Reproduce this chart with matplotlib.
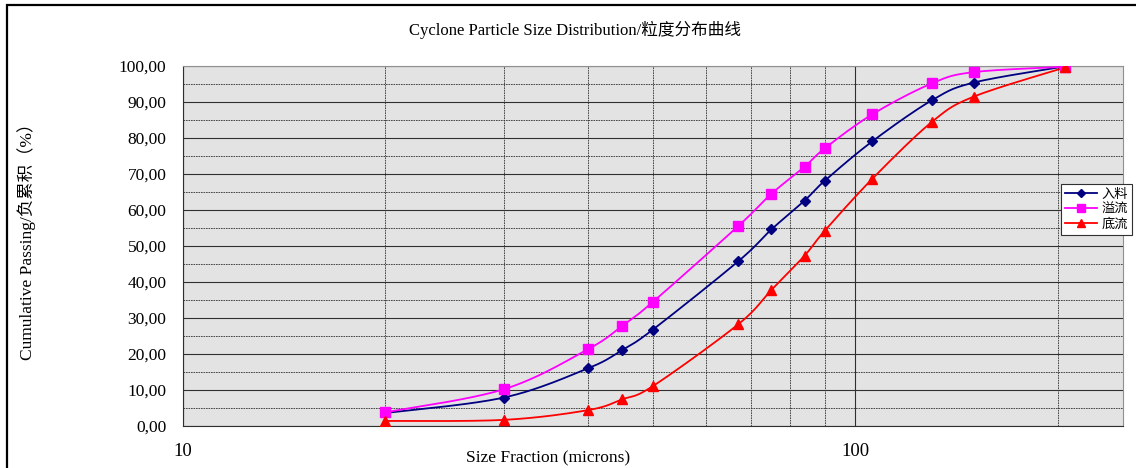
import matplotlib
matplotlib.use("Agg")
import matplotlib.pyplot as plt
import numpy as np
from matplotlib.lines import Line2D
from matplotlib.patches import Rectangle
from matplotlib.ticker import FixedLocator, FixedFormatter, NullFormatter

plt.rcParams["font.family"] = ["Liberation Serif", "Noto Sans CJK SC"]

# sieve sizes (microns) and cumulative passing (%)
sizes = [20, 30, 40, 45, 50, 67, 75, 84, 90, 106, 130, 150, 205]
feed = [3.6, 7.9, 16.0, 21.1, 26.8, 45.8, 54.6, 62.6, 68.1, 79.1, 90.5, 95.4, 99.9]
overflow = [3.8, 10.2, 21.3, 27.8, 34.5, 55.6, 64.5, 72.0, 77.1, 86.6, 95.2, 98.3, 99.8]
underflow = [1.4, 1.7, 4.4, 7.4, 11.1, 28.3, 37.8, 47.3, 54.2, 68.7, 84.5, 91.5, 99.6]
series_names = ["入料", "溢流", "底流"]

y_ticks = list(range(0, 101, 10))
x_labels = ["10", "100"]


def smooth(x, y, n=24):
    # excel-like smoothed line (bezier through points), done in screen-ish space
    u = np.log10(x) * 672.0
    v = np.asarray(y, dtype=float) * 3.6
    pts = np.column_stack([u, v])
    out = [pts[0]]
    t = np.linspace(0, 1, n)[1:, None]
    for i in range(len(pts) - 1):
        p0 = pts[max(i - 1, 0)]
        p1 = pts[i]
        p2 = pts[i + 1]
        p3 = pts[min(i + 2, len(pts) - 1)]
        c1 = p1 + (p2 - p0) / 6
        c2 = p2 - (p3 - p1) / 6
        seg = (1 - t) ** 3 * p1 + 3 * (1 - t) ** 2 * t * c1 + 3 * (1 - t) * t ** 2 * c2 + t ** 3 * p2
        out.extend(seg)
    out = np.array(out)
    return 10 ** (out[:, 0] / 672.0), out[:, 1] / 3.6


W, H = 1136, 468
fig = plt.figure(figsize=(W / 100, H / 100), dpi=100)
ax = fig.add_axes([183 / W, 1 - 426 / H, (1123 - 183) / W, (426 - 66) / H])
ax.set_facecolor("#e3e3e3")

styles = [
    dict(color="#000080", marker="D", ms=5),
    dict(color="#ff00ff", marker="s", ms=7),
    dict(color="#ff0000", marker="^", ms=7),
]
handles = []
for vals, st in zip([feed, overflow, underflow], styles):
    sx, sy = smooth(sizes, vals)
    ax.plot(sx, sy, color=st["color"], lw=1.3, zorder=3)
    ax.plot(sizes, vals, ls="none", marker=st["marker"], ms=st["ms"],
            color=st["color"], zorder=4)
    handles.append(Line2D([], [], color=st["color"], lw=1.3, marker=st["marker"],
                          ms=st["ms"] - 1))

ax.set_xscale("log")
ax.set_xlim(10, 250)
ax.set_ylim(0, 100)
ax.xaxis.set_major_locator(FixedLocator([10, 100]))
ax.xaxis.set_major_formatter(FixedFormatter(x_labels))
ax.xaxis.set_minor_locator(FixedLocator([20, 30, 40, 50, 60, 70, 80, 90, 200]))
ax.xaxis.set_minor_formatter(NullFormatter())
ax.yaxis.set_major_locator(FixedLocator(y_ticks))
ax.yaxis.set_major_formatter(FixedFormatter([f"{v:.2f}".replace(".", ",") for v in y_ticks]))
ax.yaxis.set_minor_locator(FixedLocator([v + 5 for v in y_ticks[:-1]]))

ax.tick_params(which="both", length=0)
ax.tick_params(axis="y", labelsize=12.5, pad=12)
ax.tick_params(axis="x", labelsize=13.5, pad=12)

ax.grid(which="major", color="#303030", lw=0.8, ls="-")
ax.grid(which="minor", color="#303030", lw=0.6, ls=(0, (2, 1)))
ax.set_axisbelow(True)
for s in ["top", "right"]:
    ax.spines[s].set_color("#909090")
for s in ["left", "bottom"]:
    ax.spines[s].set_color("#303030")

fig.text(575 / W, 1 - 30 / H, "Cyclone Particle Size Distribution/粒度分布曲线",
         ha="center", va="center", fontsize=12)
fig.text(548 / W, 1 - 458 / H, "Size Fraction (microns)", ha="center", va="center",
         fontsize=12.5)
fig.text(27 / W, 1 - 237 / H, "Cumulative Passing/负累积（%）", ha="center", va="center",
         rotation=90, fontsize=12.5)

leg = fig.legend(handles, series_names, loc="upper left",
                 bbox_to_anchor=(1061 / W, 1 - 184 / H), borderaxespad=0,
                 frameon=True, fancybox=False, framealpha=1, edgecolor="#303030",
                 prop={"family": ["Noto Sans CJK SC"], "size": 9.5},
                 handlelength=2.4, handletextpad=0.4, borderpad=0.3, labelspacing=0.15)
leg.get_frame().set_linewidth(0.8)

fig.add_artist(Rectangle((7 / W, -0.1), 1.2, 1 - 5 / H + 0.1, transform=fig.transFigure,
                         fill=False, lw=1.6, ec="black", clip_on=False))

fig.savefig("out.png", dpi=100)
